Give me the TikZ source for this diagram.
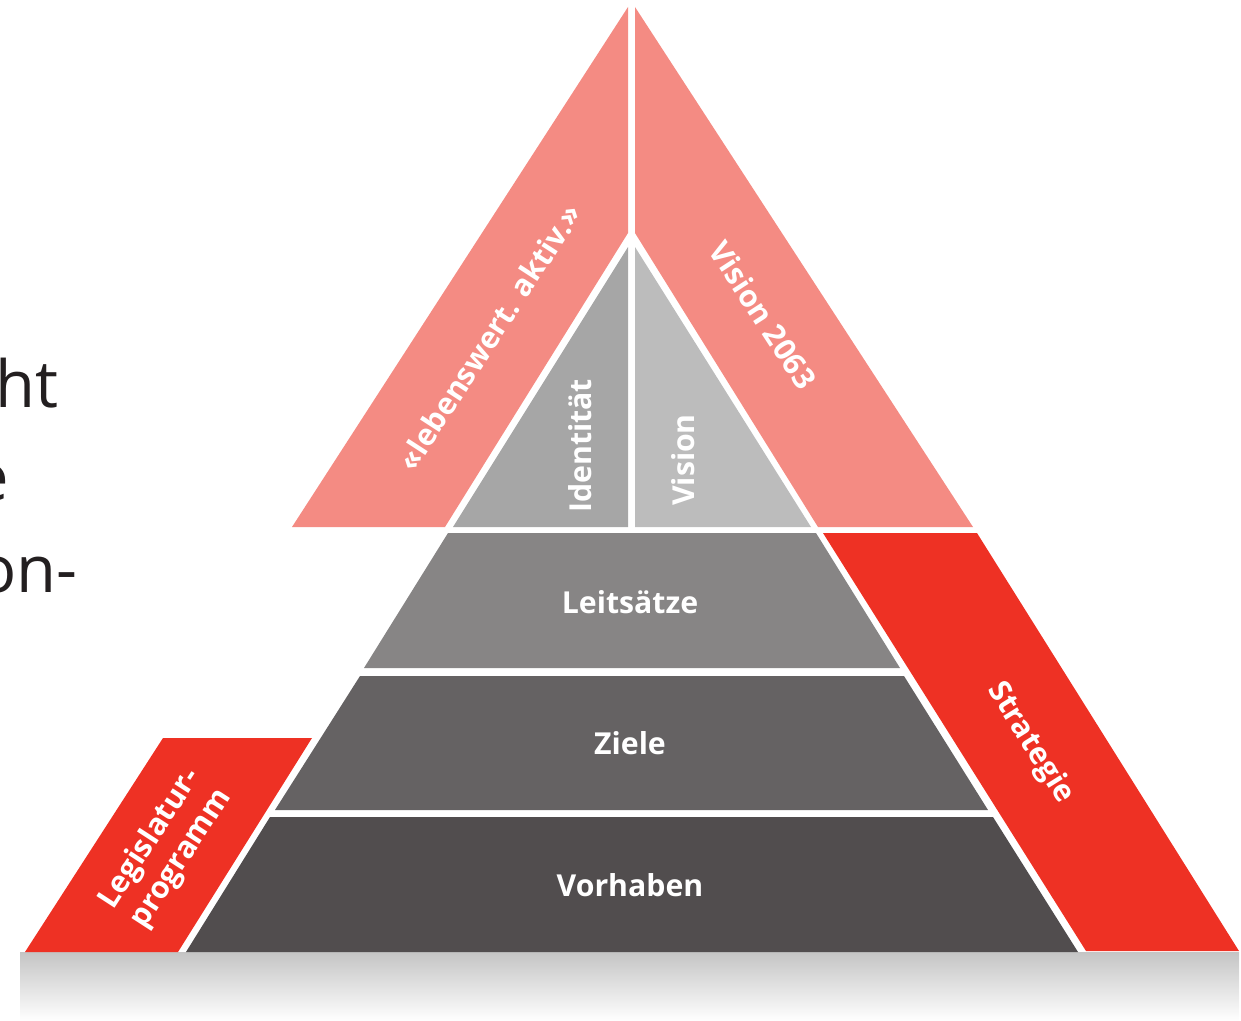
\documentclass[tikz,border=0pt]{standalone}
\usepackage{fontspec}
\setmainfont{Open Sans}
\usetikzlibrary{positioning}
\definecolor{pinkband}{HTML}{F48B83}
\definecolor{redband}{HTML}{EE3124}
\definecolor{identgray}{HTML}{A6A6A6}
\definecolor{visgray}{HTML}{BCBCBC}
\definecolor{leitgray}{HTML}{878585}
\definecolor{zielgray}{HTML}{656263}
\definecolor{vorgray}{HTML}{514D4E}
\definecolor{pagetext}{HTML}{231F20}
\tikzset{lbl/.style={text=white, font=\bfseries\fontsize{8.6}{10.5}\selectfont, inner sep=0pt, align=center}}
\tikzset{pagetxt/.style={text=pagetext, font=\fontsize{18.5}{22}\selectfont, inner sep=0pt, anchor=base east}}

\begin{document}
\begin{tikzpicture}[x=0.01cm,y=-0.01cm]
   \useasboundingbox (0,0) rectangle (1241,1021);
   % shadow under the pyramid
   \shade[top color=black!23, bottom color=white] (20,952) rectangle (1239,1021);
   % top triangle
   \fill[pinkband] (628,7) -- (292,527) -- (445,527) -- (628,233) -- cycle;
   \fill[pinkband] (635,7) -- (973,527) -- (818,527) -- (635,233) -- cycle;
   \fill[identgray] (628,247) -- (453,527) -- (628,527) -- cycle;
   \fill[visgray] (635,247) -- (811,527) -- (635,527) -- cycle;
   % tiers
   \fill[leitgray] (448,533) -- (816,533) -- (900,668) -- (364,668) -- cycle;
   \fill[zielgray] (360,676) -- (904,676) -- (988,810) -- (275,810) -- cycle;
   \fill[vorgray] (270,817) -- (993,817) -- (1078,952) -- (186,952) -- cycle;
   % red bands
   \fill[redband] (823,533) -- (977,533) -- (1239,951) -- (1086,951) -- cycle;
   \fill[redband] (163,738) -- (312,738) -- (178,952) -- (25,952) -- cycle;

   \node[lbl, rotate=57] (motto) at (489,337) {«lebenswert. aktiv.»};
   \node[lbl, rotate=-57] (vision2063) at (763,315) {Vision 2063};
   \node[lbl, rotate=90] (identitaet) at (580,446) {Identität};
   \node[lbl, rotate=90] (vision) at (683,460) {Vision};
   \node[lbl] (leitsaetze) at (630,602) {Leitsätze};
   \node[lbl] (ziele) at (630,743) {Ziele};
   \node[lbl] (vorhaben) at (630,885) {Vorhaben};
   \node[lbl, rotate=-58] (strategie) at (1030,743) {Strategie};
   \node[lbl, rotate=57] (legislatur) at (166,849) {Legislatur-\\programm};

   % cut-off text of the page beside
   \node[pagetxt] (line1) at (59,407) {ht};
   \node[pagetxt] (line2) at (10,500) {e};
   \node[pagetxt] (line3) at (78,592) {on-};
\end{tikzpicture}
\end{document}
